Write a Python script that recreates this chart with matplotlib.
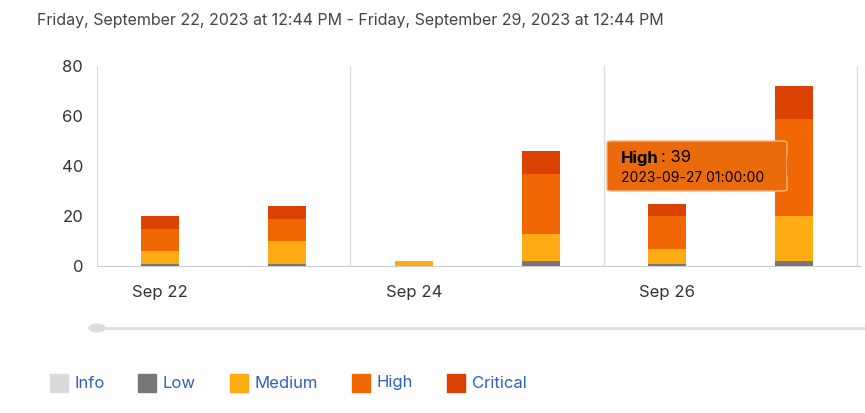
import matplotlib
matplotlib.use("Agg")
import matplotlib.pyplot as plt
from matplotlib.patches import FancyBboxPatch, Rectangle, Polygon

days = [22, 23, 24, 25, 26, 27]
info = [0, 0, 0, 0, 0, 0]
low = [1, 1, 0, 2, 1, 2]
medium = [5, 9, 2, 11, 6, 18]
high = [9, 9, 0, 24, 13, 39]
critical = [5, 5, 0, 9, 5, 13]
tick_pos = [22, 24, 26]
tick_labels = ["Sep 22", "Sep 24", "Sep 26"]
series = [("Info", info, "#d9d9de"), ("Low", low, "#76777a"), ("Medium", medium, "#ffab14"),
          ("High", high, "#f06704"), ("Critical", critical, "#db4100")]

plt.rcParams['font.family'] = ['Inter', 'DejaVu Sans']
fig = plt.figure(figsize=(8.65, 4.13), dpi=100)
ax = fig.add_axes([97/865, (413-266)/413, (860-97)/865, 200/413])
bottom = [0]*len(days)
for name, vals, col in series:
    ax.bar(days, vals, 0.3, bottom=bottom, color=col, zorder=3)
    bottom = [b+v for b, v in zip(bottom, vals)]
ax.set_xlim(21.5, 27.52)
ax.set_ylim(0, 80)
ax.set_yticks([0, 20, 40, 60, 80])
ax.set_xticks(tick_pos)
ax.set_xticklabels(tick_labels)
for x in [23.5, 25.5, 27.5]:
    ax.axvline(x, color="#dddddd", lw=1, zorder=1)
for s in ["top", "right"]:
    ax.spines[s].set_visible(False)
ax.spines["left"].set_color("#dddddd")
ax.spines["bottom"].set_color("#cccccc")
ax.tick_params(length=0, labelsize=12, colors="#333333", pad=10)
ax.tick_params(axis='x', pad=14)

fig.text(37/865, 1-20/413, "Friday, September 22, 2023 at 12:44 PM - Friday, September 29, 2023 at 12:44 PM",
         fontsize=11.5, color="#444444", va="center")

# tooltip
tip = FancyBboxPatch((607/865, 1-191/413), 180/865, 50/413, boxstyle="round,pad=0,rounding_size=0.005",
                     transform=fig.transFigure, facecolor="#eb6a0c", edgecolor="#f5b27a", lw=1)
fig.patches.append(tip)
fig.patches.append(Polygon([(787/865, 1-156/413), (795/865, 1-166/413), (787/865, 1-176/413)],
                           closed=True, transform=fig.transFigure, facecolor="#eb6a0c", edgecolor="none"))
fig.text(621/865, 1-158/413, "High", fontsize=12, fontweight="bold", color="black", va="center")
fig.text(661/865, 1-158/413, ": 39", fontsize=12, color="black", va="center")
fig.text(621/865, 1-178/413, "2023-09-27 01:00:00", fontsize=10, color="black", va="center")

# slider
fig.add_artist(plt.Line2D([97/865, 865/865], [1-328/413]*2, color="#dddddd", lw=2, transform=fig.transFigure))
fig.add_artist(plt.Circle((97/865, 1-328/413), 8/865, transform=fig.transFigure, color="#dddddd"))

# legend
xs = [50, 138, 230, 352, 447]
for (name, vals, col), x in zip(series, xs):
    fig.patches.append(Rectangle((x/865, 1-392/413), 18/865, 18/413, transform=fig.transFigure, color=col))
    fig.text((x+25)/865, 1-383/413, name, fontsize=12, color="#2f5fbf", va="center")

fig.savefig("out.png")
